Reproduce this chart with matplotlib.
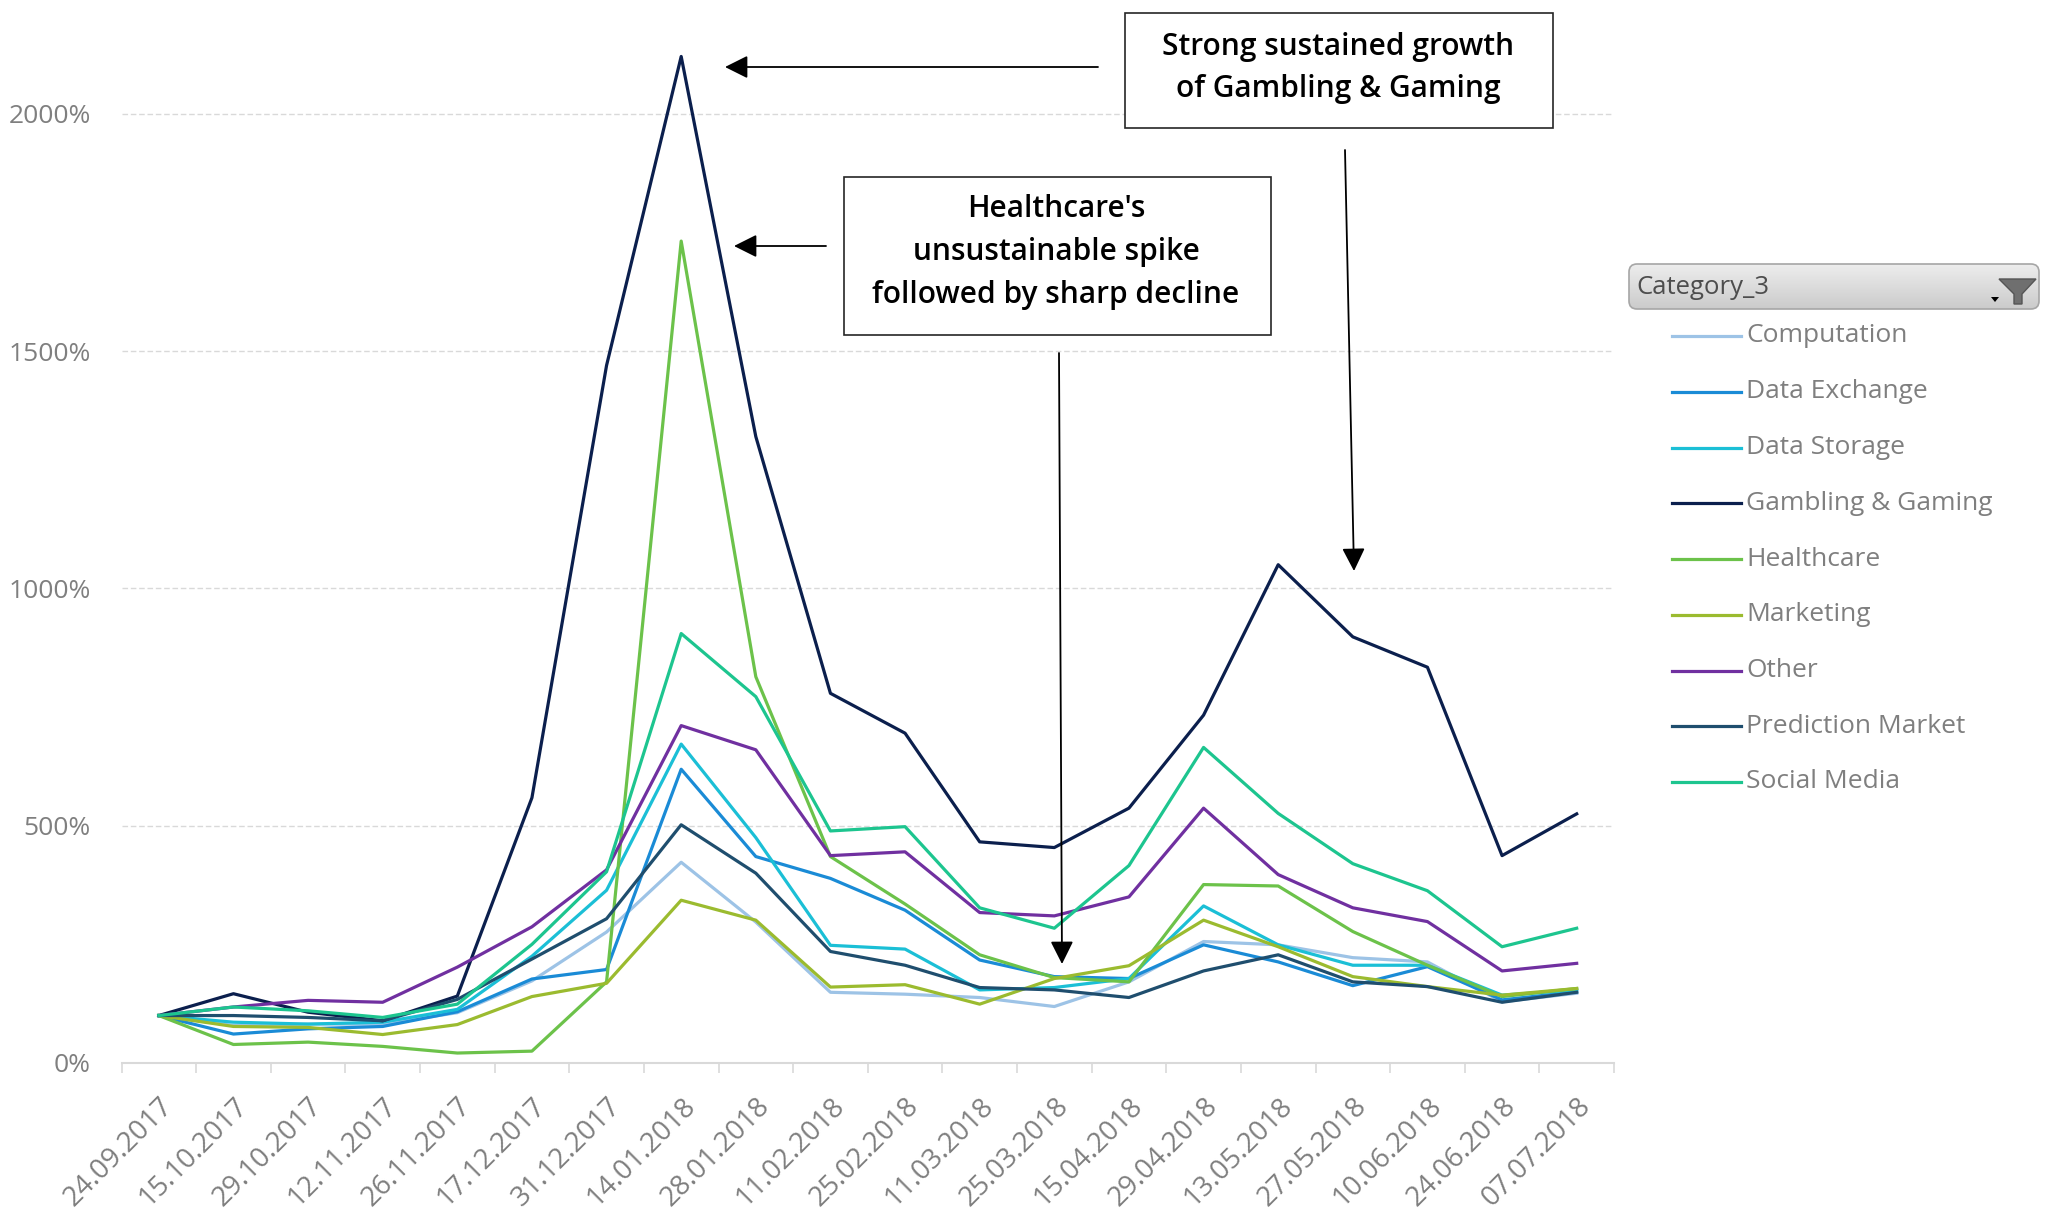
import numpy as np
import matplotlib
matplotlib.use("Agg")
import matplotlib.pyplot as plt
from matplotlib.patches import Rectangle, FancyBboxPatch, Polygon
from matplotlib.lines import Line2D
from matplotlib.colors import LinearSegmentedColormap
from matplotlib.transforms import IdentityTransform
from matplotlib.ticker import FuncFormatter

plt.rcParams['font.family'] = ['Open Sans', 'DejaVu Sans']

# Data (index, 24.09.2017 = 100%)
dates = ['24.09.2017', '15.10.2017', '29.10.2017', '12.11.2017', '26.11.2017',
         '17.12.2017', '31.12.2017', '14.01.2018', '28.01.2018', '11.02.2018',
         '25.02.2018', '11.03.2018', '25.03.2018', '15.04.2018', '29.04.2018',
         '13.05.2018', '27.05.2018', '10.06.2018', '24.06.2018', '07.07.2018']

computation = [100, 79, 82, 82, 106, 173, 276, 423, 297, 149,
               145, 138, 119, 171, 256, 249, 222, 213, 129, 147]
data_exchange = [100, 61, 72, 77, 108, 177, 197, 619, 435, 389,
                 322, 217, 182, 178, 249, 213, 163, 203, 133, 150]
data_storage = [100, 86, 82, 86, 113, 225, 364, 672, 475, 248,
                240, 154, 159, 178, 331, 249, 206, 206, 143, 154]
gambling = [100, 146, 107, 89, 141, 559, 1470, 2121, 1320, 779,
            695, 466, 454, 537, 733, 1050, 898, 834, 437, 525]
healthcare = [100, 39, 44, 35, 21, 25, 171, 1732, 814, 435,
              335, 228, 180, 171, 376, 373, 277, 206, 140, 157]
marketing = [100, 77, 75, 60, 81, 140, 168, 343, 301, 160,
             165, 124, 178, 205, 301, 245, 182, 161, 143, 157]
other = [100, 118, 132, 128, 202, 287, 407, 711, 660, 437,
         445, 317, 310, 350, 537, 397, 327, 298, 194, 210]
prediction = [100, 100, 96, 89, 134, 219, 304, 502, 400, 235,
              206, 159, 154, 138, 194, 228, 171, 161, 128, 149]
social_media = [100, 118, 110, 96, 124, 250, 403, 905, 772, 489,
                498, 327, 284, 416, 665, 526, 420, 363, 245, 284]

series_names = ['Computation', 'Data Exchange', 'Data Storage', 'Gambling & Gaming',
                'Healthcare', 'Marketing', 'Other', 'Prediction Market', 'Social Media']
series_values = [computation, data_exchange, data_storage, gambling, healthcare,
                 marketing, other, prediction, social_media]
colors = ['#9dc3e6', '#1a8bd6', '#1bbfd6', '#0b1f4d', '#6cc24a',
          '#9bbb2f', '#7030a0', '#1f4e6e', '#1dc58f']

W, H = 2048, 1211
fig = plt.figure(figsize=(W / 100, H / 100), dpi=100)
fig.patch.set_facecolor('white')


def fx(px):
    return px / W


def fy(py):  # py measured from the top of the image
    return 1 - py / H


# main axes
ax = fig.add_axes([fx(121.5), fy(1063), fx(1614) - fx(121.5), 1063 / H])
x = np.arange(len(dates))
for name, vals, col in zip(series_names, series_values, colors):
    ax.plot(x, vals, color=col, lw=2.3, label=name)

ax.set_xlim(-0.5, len(dates) - 0.5)
ax.set_ylim(0, 2240)
ax.set_yticks([0, 500, 1000, 1500, 2000])
ax.yaxis.set_major_formatter(FuncFormatter(lambda v, p: f'{v:.0f}%'))
ax.yaxis.grid(True, color='#d9d9d9', ls=(0, (4, 2)), lw=1)
ax.set_axisbelow(True)

ax.set_xticks(x)
ax.set_xticklabels(dates, rotation=45, ha='right', va='top', rotation_mode='anchor')
ax.set_xticks(np.arange(-0.5, len(dates)), minor=True)
ax.tick_params(axis='x', which='major', length=0, pad=21, labelsize=20, labelcolor='#7f7f7f')
ax.tick_params(axis='x', which='minor', length=7, width=1.2, color='#d9d9d9')
ax.tick_params(axis='y', length=0, pad=22, labelsize=19, labelcolor='#7f7f7f')

for s in ['left', 'right', 'top']:
    ax.spines[s].set_visible(False)
ax.spines['bottom'].set_color('#d9d9d9')
ax.spines['bottom'].set_linewidth(1.5)

# annotation boxes
box_style = dict(transform=fig.transFigure, fc='white', ec='#262626', lw=1.2, zorder=5)
fig.add_artist(Rectangle((fx(1125), fy(128)), fx(1553) - fx(1125), (128 - 13) / H, **box_style))
fig.add_artist(Rectangle((fx(844), fy(335)), fx(1271) - fx(844), (335 - 177) / H, **box_style))
fig.text(fx(1338), fy(68), 'Strong sustained growth\nof Gambling & Gaming',
         ha='center', va='center', fontsize=21.5, weight='semibold',
         linespacing=1.5, color='black', zorder=6)
fig.text(fx(1056), fy(252), "Healthcare's\nunsustainable spike\nfollowed by sharp decline",
         ha='center', va='center', fontsize=21.5, weight='semibold',
         linespacing=1.55, color='black', zorder=6)

# arrows (figure pixels, origin bottom-left)
arrows = [((1098, 67), (725, 67)),
          ((826, 246), (734, 246)),
          ((1059, 353), (1062, 964)),
          ((1345, 150), (1354, 571))]
for tail, tip in arrows:
    ax.annotate('', xy=(tip[0], H - tip[1]), xytext=(tail[0], H - tail[1]),
                xycoords='figure pixels', textcoords='figure pixels',
                arrowprops=dict(arrowstyle='-|>,head_length=0.5,head_width=0.25',
                                color='black', lw=1.3, mutation_scale=28,
                                shrinkA=0, shrinkB=0))

# legend (pivot-chart style)
for k, (name, col) in enumerate(zip(series_names, colors)):
    yk = 336 + 55.75 * k
    fig.add_artist(Line2D([fx(1672), fx(1741)], [fy(yk), fy(yk)], color=col, lw=2.3))
    fig.text(fx(1746), fy(yk), name, ha='left', va='center', fontsize=19, color='#7f7f7f')

# field button "Category_3"
bx0, by0, bx1, by1 = 1629, 264, 2039, 309
gax = fig.add_axes([fx(bx0), fy(by1), fx(bx1) - fx(bx0), (by1 - by0) / H])
gax.set_axis_off()
cmap = LinearSegmentedColormap.from_list('btn', ['#cbcbcb', '#ededed'])
im = gax.imshow(np.linspace(0, 1, 64)[:, None], cmap=cmap, aspect='auto',
                origin='lower', extent=[0, 1, 0, 1])
clip = FancyBboxPatch((bx0, H - by1), bx1 - bx0, by1 - by0,
                      boxstyle='round,pad=0,rounding_size=8', transform=IdentityTransform())
im.set_clip_path(clip)
fig.add_artist(FancyBboxPatch((bx0, H - by1), bx1 - bx0, by1 - by0,
                              boxstyle='round,pad=0,rounding_size=8',
                              transform=IdentityTransform(), fc='none',
                              ec='#a6a6a6', lw=1.2, zorder=5))
fig.text(fx(1636), fy(288), 'Category_3', ha='left', va='center',
         fontsize=18.5, color='#4d4d4d', zorder=6)
funnel = [(1999, 279), (2036, 279), (2022, 294), (2022, 304), (2014, 304), (2014, 294)]
fig.add_artist(Polygon([(px, H - py) for px, py in funnel], closed=True,
                       transform=IdentityTransform(), fc='#6f6f6f', ec='#555555',
                       lw=1, zorder=6))
drop = [(1991, 297), (1999, 297), (1995, 302)]
fig.add_artist(Polygon([(px, H - py) for px, py in drop], closed=True,
                       transform=IdentityTransform(), fc='black', ec='none', zorder=6))

fig.savefig('out.png', dpi=100, facecolor='white')
